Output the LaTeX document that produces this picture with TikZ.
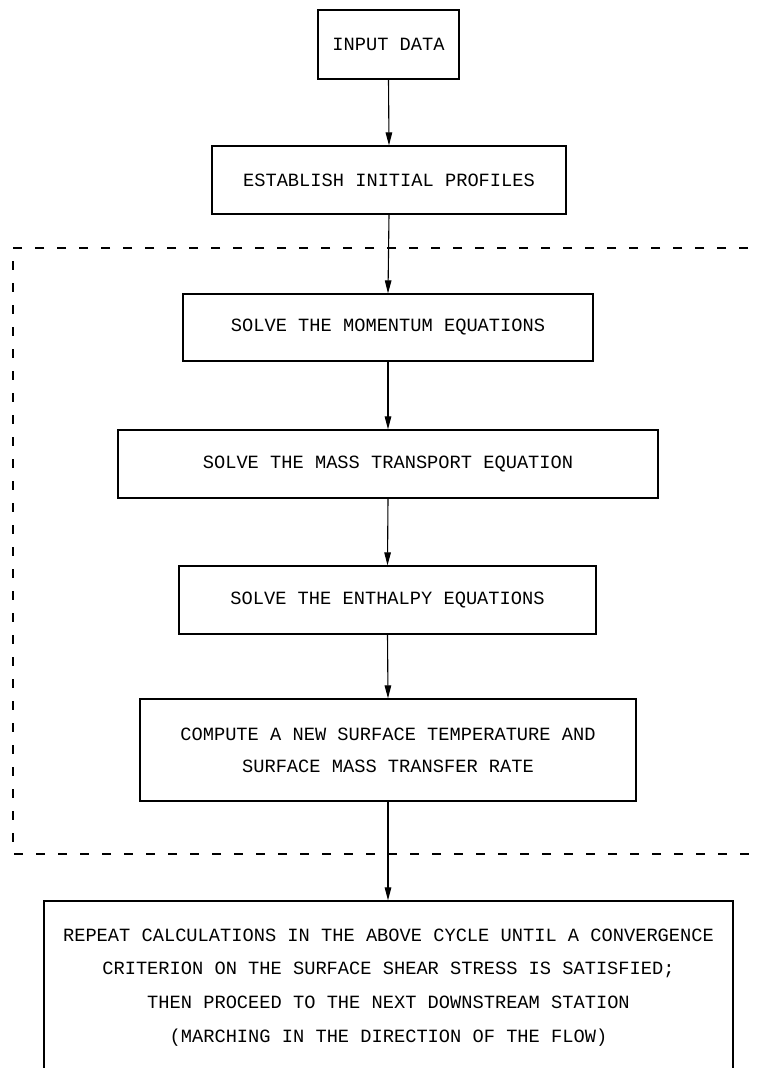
\documentclass[tikz,border=0pt]{standalone}
\usepackage{fontspec}
\setmainfont{Liberation Mono}
\usetikzlibrary{arrows.meta}
\tikzset{
  box/.style={draw, line width=1.2pt, inner sep=0pt, align=center,
    font=\fontsize{18.7}{32}\selectfont},
  flow/.style={line width=1.1pt, -{Triangle[length=13pt,width=6.5pt]}},
  loopline/.style={line width=1.1pt, dash pattern=on 9pt off 13pt}
}
\begin{document}
\begin{tikzpicture}[x=1pt,y=-1pt]
\useasboundingbox (0,0) rectangle (758,1068);
\clip (0,0) rectangle (758,1068);
\fill[white] (0,0) rectangle (758,1068);
\node[box, minimum width=141pt, minimum height=69pt] (input) at (388.5,44.5) {INPUT DATA};
\node[box, minimum width=354pt, minimum height=68pt] (init) at (389,180) {ESTABLISH INITIAL PROFILES};
\node[box, minimum width=410pt, minimum height=67pt] (mom) at (388,327.5) {SOLVE THE MOMENTUM EQUATIONS};
\node[box, minimum width=540pt, minimum height=68pt] (mass) at (388,464) {SOLVE THE MASS TRANSPORT EQUATION};
\node[box, minimum width=417pt, minimum height=68pt] (enth) at (387.5,600) {SOLVE THE ENTHALPY EQUATIONS};
\node[box, minimum width=496pt, minimum height=102pt] (comp) at (388,750) {COMPUTE A NEW SURFACE TEMPERATURE AND\\SURFACE MASS TRANSFER RATE};
\node[box, minimum width=689pt, minimum height=173pt, font=\fontsize{18.7}{33.7}\selectfont] (repeat) at (388.5,987.5)
  {REPEAT CALCULATIONS IN THE ABOVE CYCLE UNTIL A CONVERGENCE\\CRITERION ON THE SURFACE SHEAR STRESS IS SATISFIED;\\THEN PROCEED TO THE NEXT DOWNSTREAM STATION\\(MARCHING IN THE DIRECTION OF THE FLOW)};
\coordinate (lt) at (770,248);
\coordinate (lb) at (770,854);
\draw[loopline] (lt) -- (13,248) -- (13,854) -- (lb);
\draw[flow] (input.south) -- (init.north);
\draw[flow] (init.south) -- (mom.north);
\draw[flow] (mom.south) -- (mass.north);
\draw[flow] (mass.south) -- (enth.north);
\draw[flow] (enth.south) -- (comp.north);
\draw[flow] (comp.south) -- (comp.south |- repeat.north);
\end{tikzpicture}
\end{document}
